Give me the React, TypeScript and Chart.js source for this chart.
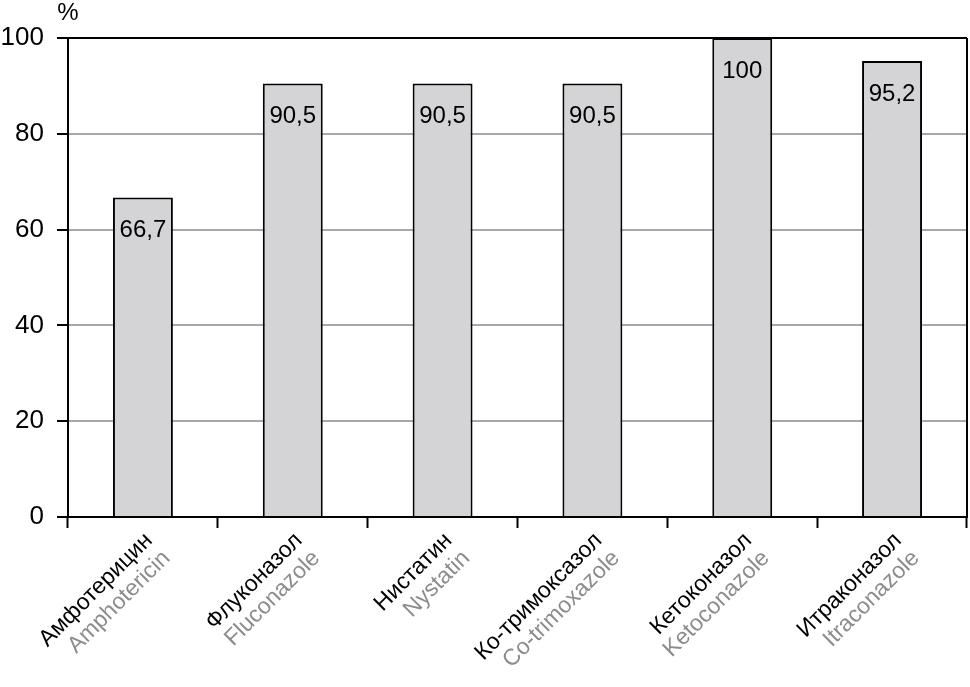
import React, { useEffect, useRef } from "react";
import { Chart, registerables } from "chart.js";

Chart.register(...registerables);

const categoriesRu = ["Амфотерицин", "Флуконазол", "Нистатин", "Ко-тримоксазол", "Кетоконазол", "Итраконазол"];
const categoriesEn = ["Amphotericin", "Fluconazole", "Nystatin", "Co-trimoxazole", "Ketoconazole", "Itraconazole"];
const values = [66.7, 90.5, 90.5, 90.5, 100, 95.2];
const valueLabels = ["66,7", "90,5", "90,5", "90,5", "100", "95,2"];
const yTicks = [0, 20, 40, 60, 80, 100];
const unitLabel = "%";

const FONT = "'Liberation Sans', Arial, Helvetica, sans-serif";

const overlayPlugin = {
  id: "overlay",
  afterDatasetsDraw(chart: any) {
    const ctx = chart.ctx;
    const area = chart.chartArea;
    const meta = chart.getDatasetMeta(0);
    ctx.save();
    // value labels inside bars
    ctx.font = `24px ${FONT}`;
    ctx.fillStyle = "#000";
    ctx.textAlign = "center";
    ctx.textBaseline = "middle";
    meta.data.forEach((bar: any, i: number) => {
      ctx.fillText(valueLabels[i], bar.x, bar.y + 33);
    });
    // right border
    ctx.strokeStyle = "#000";
    ctx.lineWidth = 2;
    ctx.beginPath();
    ctx.moveTo(area.right, area.top);
    ctx.lineTo(area.right, area.bottom);
    ctx.stroke();
    // % label
    ctx.font = `24px ${FONT}`;
    ctx.textAlign = "center";
    ctx.textBaseline = "middle";
    ctx.fillText(unitLabel, area.left, area.top - 25);
    // x labels
    const xs = chart.scales.x;
    ctx.font = `23px ${FONT}`;
    ctx.textAlign = "right";
    ctx.textBaseline = "middle";
    categoriesRu.forEach((ru, i) => {
      const x = xs.getPixelForValue(i);
      ctx.save();
      ctx.translate(x + 6, area.bottom + 20);
      ctx.rotate(-Math.PI / 4);
      ctx.fillStyle = "#000";
      ctx.fillText(ru, 0, 0);
      ctx.fillStyle = "#8c8c8c";
      ctx.fillText(categoriesEn[i], 0, 25);
      ctx.restore();
    });
    ctx.restore();
  },
};

export default function App() {
  const canvasRef = useRef<HTMLCanvasElement>(null);

  useEffect(() => {
    const chart = new Chart(canvasRef.current!, {
      type: "bar",
      data: {
        labels: categoriesRu,
        datasets: [
          {
            data: values,
            backgroundColor: "#d4d4d6",
            borderColor: "#000",
            borderWidth: 2,
            barPercentage: 0.4,
            categoryPercentage: 1,
          },
        ],
      },
      options: {
        animation: false,
        responsive: false,
        layout: { padding: { top: 38, right: 3, left: 0, bottom: 0 } },
        plugins: { legend: { display: false }, tooltip: { enabled: false } },
        scales: {
          x: {
            offset: true,
            grid: {
              offset: true,
              drawOnChartArea: false,
              drawTicks: true,
              tickLength: 11,
              tickColor: "#000",
              tickWidth: 2,
            },
            border: { color: "#000", width: 2 },
            ticks: { display: false },
            afterFit: (s: any) => {
              s.height = 170;
            },
          },
          y: {
            min: 0,
            max: 100,
            afterBuildTicks: (s: any) => {
              s.ticks = yTicks.map((v) => ({ value: v }));
            },
            grid: {
              color: (c: any) => (c.tick && c.tick.value === 100 ? "#000" : "#a8a8a8"),
              lineWidth: 2,
              tickLength: 11,
              tickColor: "#000",
              tickWidth: 2,
            },
            border: { color: "#000", width: 2 },
            ticks: {
              color: "#000",
              padding: 13,
              font: { size: 26, family: FONT },
            },
            afterFit: (s: any) => {
              s.width = 68;
            },
          },
        },
      },
      plugins: [overlayPlugin],
    });
    return () => chart.destroy();
  }, []);

  return (
    <div style={{ position: "fixed", left: 0, top: 0, width: 970, height: 687, background: "#fff" }}>
      <canvas ref={canvasRef} width={970} height={687} style={{ width: 970, height: 687 }} />
    </div>
  );
}
